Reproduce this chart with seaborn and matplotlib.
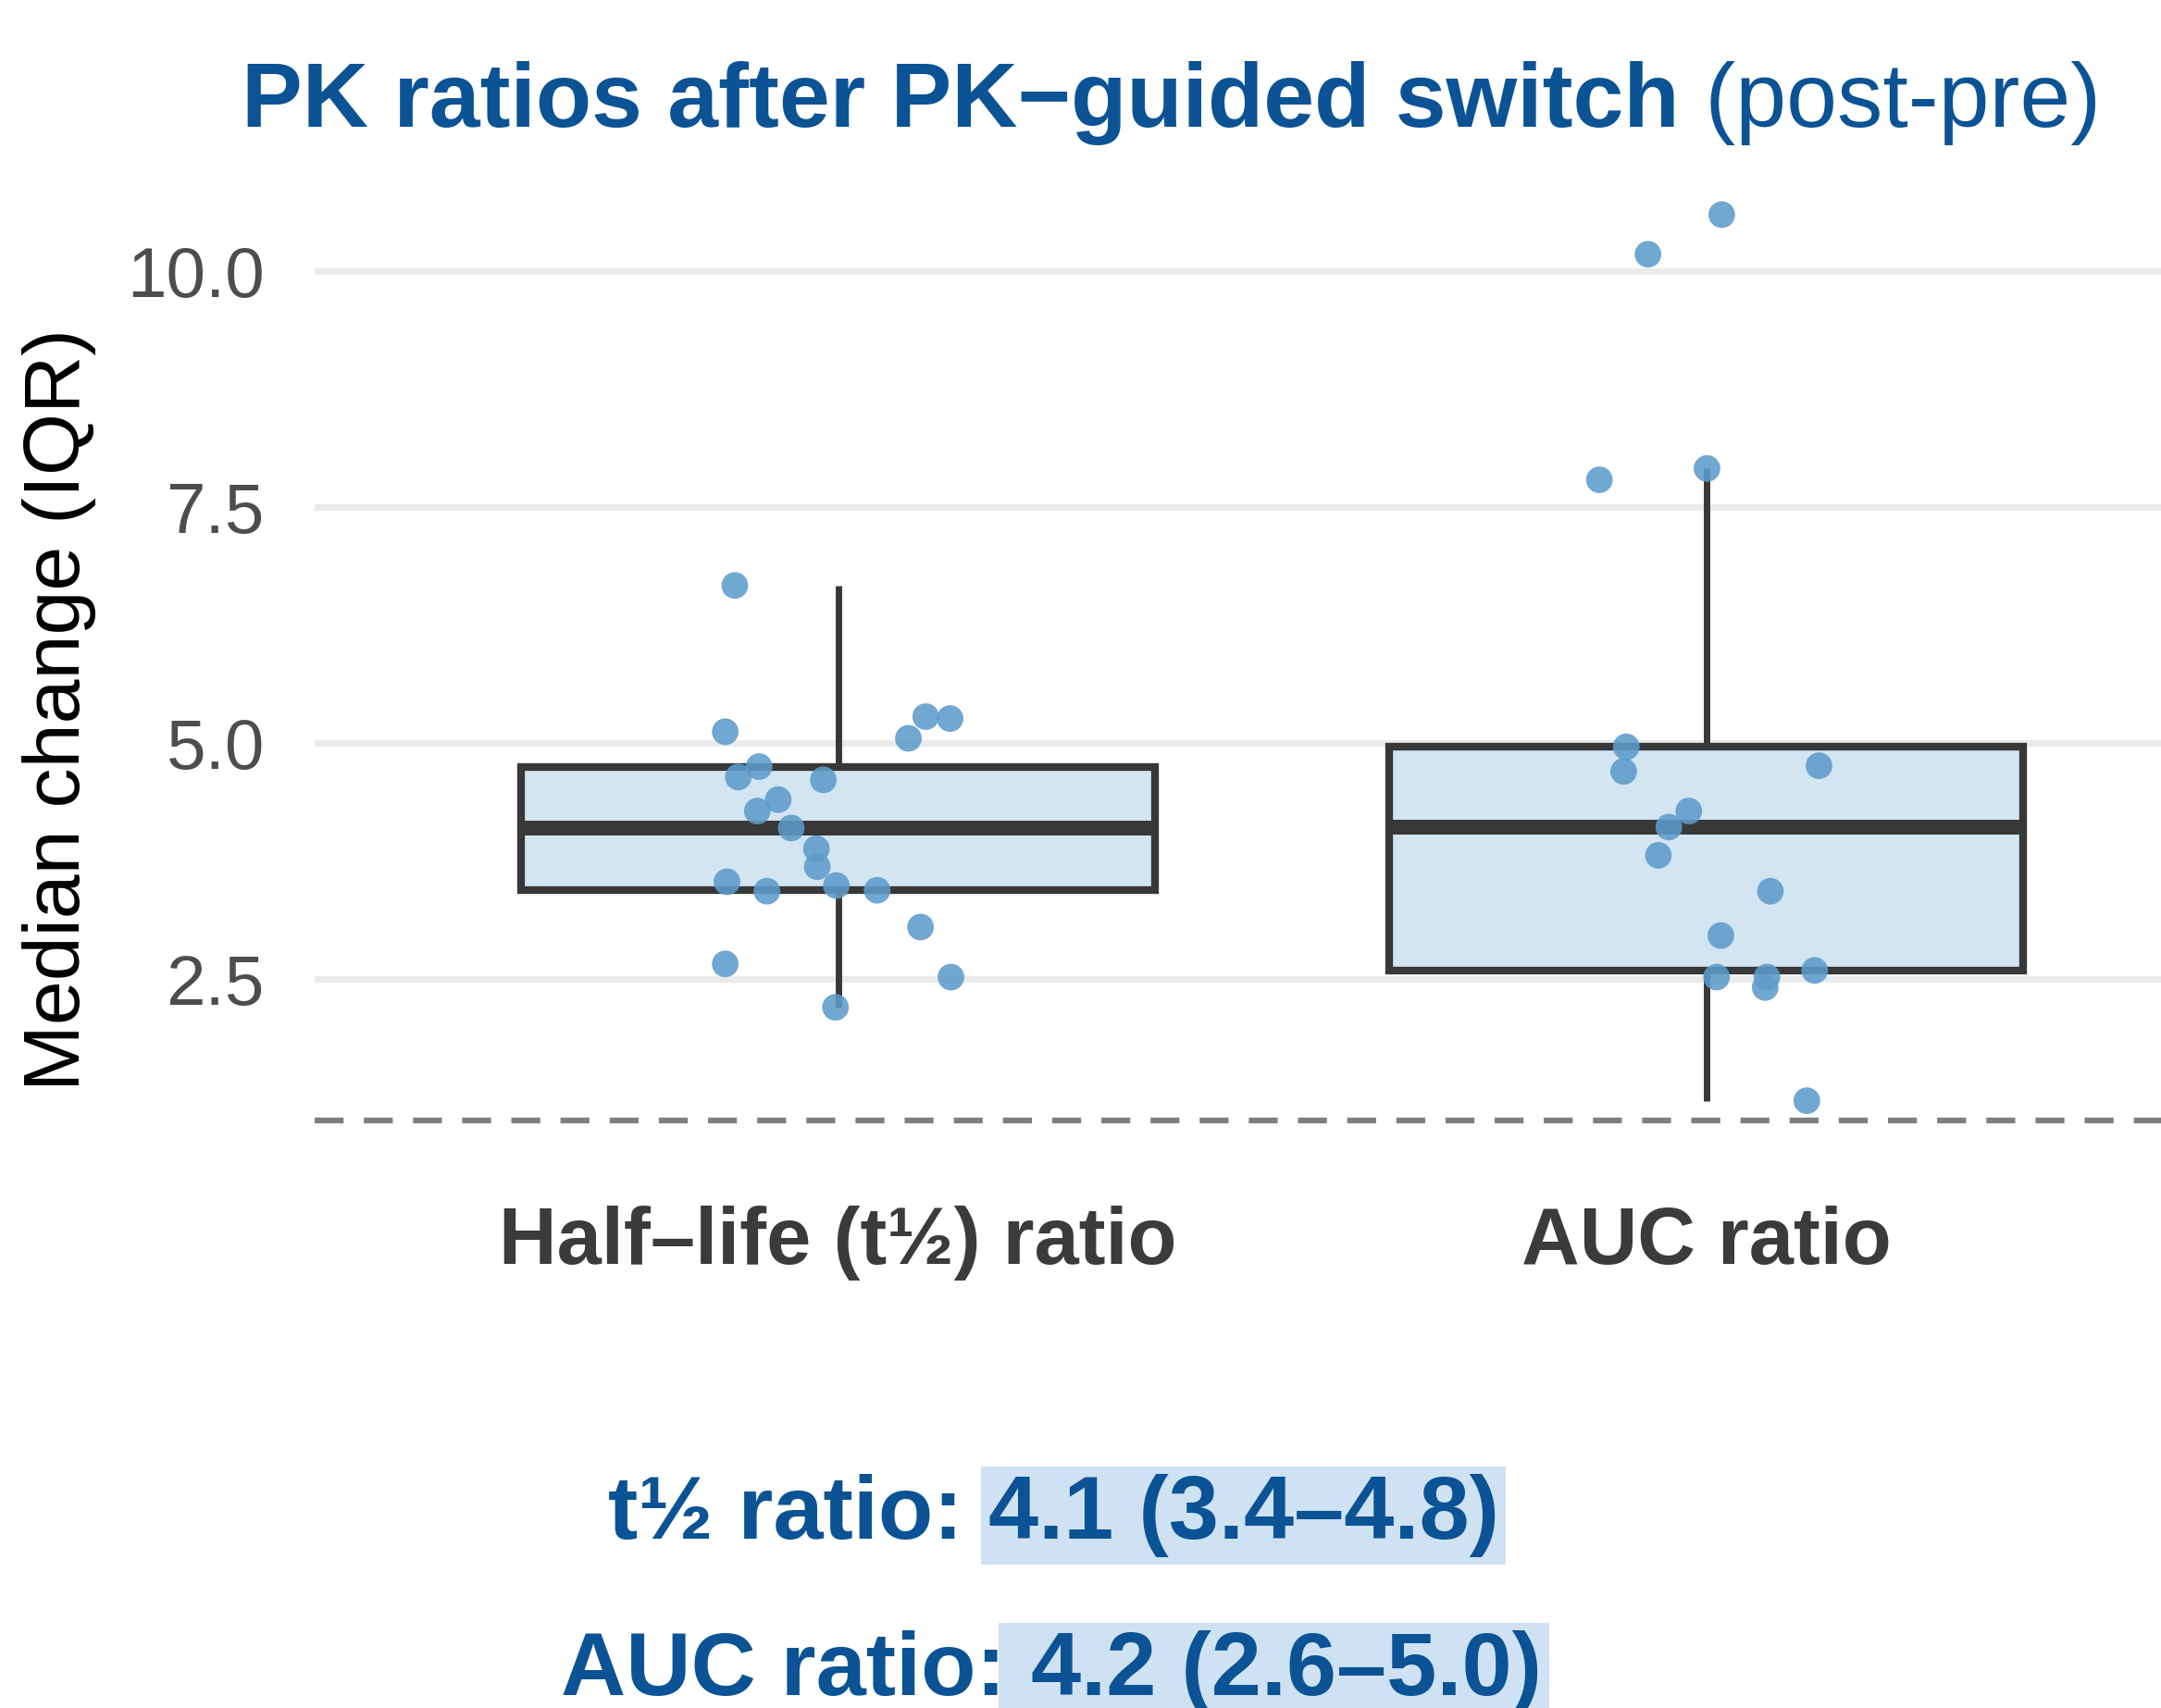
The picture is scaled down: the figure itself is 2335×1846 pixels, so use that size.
import numpy as np
import pandas as pd
import matplotlib
matplotlib.use("Agg")
import matplotlib.pyplot as plt
import seaborn as sns

# categories and values
categories = ["Half\u2013life (t\u00bd) ratio", "AUC ratio"]

halflife_vals = [6.67, 5.12, 5.05, 5.28, 5.26, 4.75, 4.64, 4.61, 4.40, 4.28, 4.10,
                 3.88, 3.69, 3.53, 3.43, 3.49, 3.44, 3.05, 2.66, 2.52, 2.20]
halflife_jit = [-0.119, -0.130, 0.081, 0.101, 0.129, -0.091, -0.115, -0.017, -0.069, -0.093, -0.054,
                -0.025, -0.024, -0.128, -0.082, -0.002, 0.045, 0.095, -0.130, 0.130, -0.003]

auc_vals = [10.60, 10.18, 7.79, 7.91, 4.96, 4.70, 4.76, 4.28, 4.11, 3.81, 3.43,
            2.96, 2.52, 2.52, 2.41, 2.59, 1.21]
auc_jit = [0.018, -0.067, -0.123, 0.001, -0.092, -0.095, 0.130, -0.020, -0.043, -0.055, 0.074,
           0.017, 0.012, 0.070, 0.068, 0.125, 0.116]

ref_line = 1.0
y_ticks = [2.5, 5.0, 7.5, 10.0]
y_ticklabels = ["2.5", "5.0", "7.5", "10.0"]

summary_prefix = ["t\u00bd ratio: ", "AUC ratio:"]
summary_value = ["4.1 (3.4\u20134.8)", " 4.2 (2.6\u20135.0)"]

title_bold = "PK ratios after PK\u2212guided switch"
title_light = " (post-pre)"

df = pd.DataFrame({
    "metric": [categories[0]] * len(halflife_vals) + [categories[1]] * len(auc_vals),
    "value": halflife_vals + auc_vals,
    "jit": halflife_jit + auc_jit,
})
df["xpos"] = df["metric"].map({c: i for i, c in enumerate(categories)}) + df["jit"]

blue = "#0b5394"
dark = "#383838"

sns.set_style("white")
plt.rcParams["font.family"] = ["Liberation Sans", "DejaVu Sans"]

W, H = 2335, 1846
fig = plt.figure(figsize=(W / 100, H / 100), dpi=100)
ax = fig.add_axes([340 / W, 1 - 1260 / H, 1 - 340 / W, (1260 - 183) / H])

sns.boxplot(data=df, x="metric", y="value", order=categories, width=0.73,
            showfliers=False, color="#d3e5f1", linecolor=dark, linewidth=6,
            medianprops={"linewidth": 11.5, "color": dark},
            whiskerprops={"linewidth": 5}, capprops={"linewidth": 0},
            ax=ax, zorder=2)
for p in ax.patches:
    p.set_facecolor("#d3e5f1")

sns.scatterplot(data=df, x="xpos", y="value", color="#5d9ccb", s=430,
                edgecolor="none", alpha=0.88, ax=ax, zorder=4)

ax.axhline(ref_line, color="#7f7f7f", lw=4.5, dashes=(5, 3.5), zorder=1)

ax.set_xlim(-0.603, 1.524)
ax.set_ylim(0.52, 11.08)
ax.set_yticks(y_ticks)
ax.set_yticklabels(y_ticklabels)
ax.yaxis.grid(True, color="#ebebeb", lw=5)
ax.xaxis.grid(False)
ax.set_axisbelow(True)
for s in ax.spines.values():
    s.set_visible(False)

ax.tick_params(axis="y", length=0, pad=39, labelsize=55, labelcolor="#4d4d4d")
ax.tick_params(axis="x", length=0, pad=31, labelsize=62.5, labelcolor="#3b3b3b")
for lab in ax.get_xticklabels():
    lab.set_fontweight("bold")
ax.set_xlabel("")
ax.set_ylabel("")

# y axis title
fig.text(64 / W, 1 - 767 / H, "Median change (IQR)", fontsize=62, color="black",
         rotation=90, ha="center", va="center")

fig.canvas.draw()
renderer = fig.canvas.get_renderer()
inv = fig.transFigure.inverted()

# title in two weights
t1 = fig.text(261 / W, 1 - 137 / H, title_bold, fontsize=71, fontweight="bold",
              color=blue, ha="left", va="baseline")
fig.canvas.draw()
x1 = inv.transform((t1.get_window_extent(renderer).x1, 0))[0]
fig.text(x1, 1 - 137 / H, title_light, fontsize=71, color=blue, ha="left", va="baseline")

# summary lines with highlighted values
starts = [657, 606]
baselines = [1663, 1832]
for pre, val, x0, yb in zip(summary_prefix, summary_value, starts, baselines):
    tp = fig.text(x0 / W, 1 - yb / H, pre, fontsize=70, fontweight="bold",
                  color=blue, ha="left", va="baseline")
    fig.canvas.draw()
    xe = inv.transform((tp.get_window_extent(renderer).x1, 0))[0]
    fig.text(xe, 1 - yb / H, val, fontsize=70, fontweight="bold", color=blue,
             ha="left", va="baseline",
             bbox=dict(boxstyle="square,pad=0.08", fc="#cfe2f3", ec="none"))

fig.savefig("out.png", dpi=100)
